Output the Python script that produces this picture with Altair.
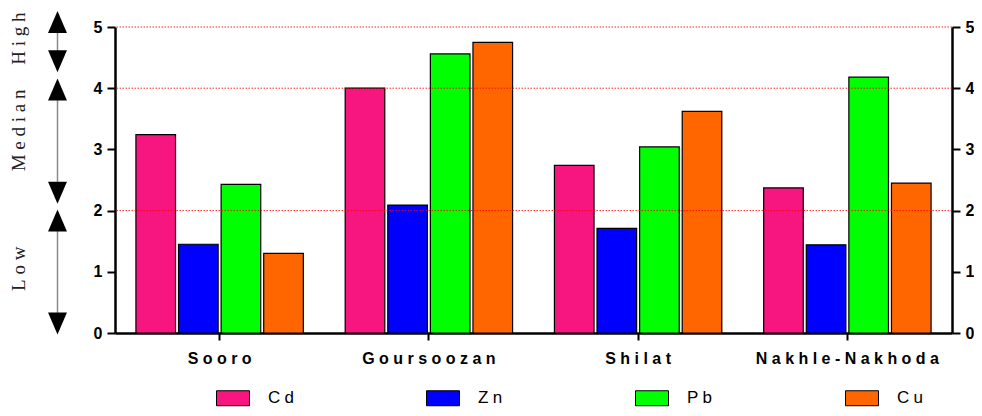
import altair as alt
import pandas as pd

# ---- data ----
sites = ["Sooro", "Goursoozan", "Shilat", "Nakhle-Nakhoda"]
metals = ["Cd", "Zn", "Pb", "Cu"]
cd = [3.24, 4.00, 2.74, 2.37]
zn = [1.45, 2.09, 1.71, 1.44]
pb = [2.43, 4.56, 3.04, 4.18]
cu = [1.30, 4.75, 3.62, 2.45]
metal_colors = ["#F7157F", "#0000FF", "#00FF00", "#FF6600"]
y_ticks = [0, 1, 2, 3, 4, 5]
grid_levels = [2, 4, 5]
zones = ["High", "Median", "Low"]
zone_mid = [4.81, 3.31, 1.05]
zone_top = [5.08, 3.98, 1.84]
zone_bottom = [4.44, 2.29, 0.155]

rows = []
for i, s in enumerate(sites):
    for m, vals in zip(metals, [cd, zn, pb, cu]):
        rows.append({"site": s, "metal": m, "value": vals[i]})
bars_df = pd.DataFrame(rows)

zones_df = pd.DataFrame({
    "label": ["\u2005".join(z) for z in zones],
    "mid": zone_mid,
    "top": zone_top,
    "bottom": zone_bottom,
})
grid_df = pd.DataFrame({"level": grid_levels})

ysc = alt.Scale(domain=[0, 5], nice=False)
FONT = "Liberation Sans"

axis_common = dict(
    title=None, grid=False, domainColor="black", domainWidth=2.5,
    tickColor="black", tickWidth=2, labelFont=FONT, labelFontWeight="bold",
    labelFontSize=16, labelColor="black",
)

bars = alt.Chart(bars_df).mark_bar(stroke="black", strokeWidth=1.2).encode(
    x=alt.X("site:N", sort=sites,
            scale=alt.Scale(paddingInner=0.2, paddingOuter=0.1),
            axis=alt.Axis(labelAngle=0, tickSize=7, labelPadding=10,
                          labelLimit=400,
                          labelExpr="join(split(datum.label, ''), ' ')",
                          **axis_common)),
    xOffset=alt.XOffset("metal:N", sort=metals,
                        scale=alt.Scale(paddingInner=0.07, paddingOuter=0)),
    y=alt.Y("value:Q", scale=ysc,
            axis=alt.Axis(orient="left", values=y_ticks, format="d",
                          tickSize=8, labelPadding=5, **axis_common)),
    color=alt.Color("metal:N", sort=metals,
                    scale=alt.Scale(domain=metals, range=metal_colors),
                    legend=alt.Legend(
                        title=None, orient="none", legendX=101, legendY=354,
                        direction="horizontal",
                        symbolType="M-1,-0.4545H1V0.4545H-1Z", symbolSize=1089,
                        symbolStrokeColor="black", symbolStrokeWidth=1,
                        symbolOpacity=1, labelFont=FONT, labelFontSize=17,
                        labelColor="black", labelOffset=18, columnPadding=130,
                        labelExpr="join(split(datum.label, ''), '\u2005')")),
)

grid = alt.Chart(grid_df).mark_rule(
    color="#FF0000", strokeDash=[1.5, 1.5], strokeWidth=1, opacity=0.85
).encode(
    y=alt.Y("level:Q", scale=ysc,
            axis=alt.Axis(orient="right", values=y_ticks, format="d",
                          tickSize=8, labelPadding=5, **axis_common)),
)

line = alt.Chart(zones_df).mark_rule(color="#8a8a8a", strokeWidth=1.5).encode(
    x=alt.value(-57.5),
    y=alt.Y("top:Q", scale=ysc, axis=None),
    y2="bottom:Q",
)

UP = "M0,-1L0.86,1L-0.86,1Z"
DOWN = "M0,1L0.86,-1L-0.86,-1Z"
up = alt.Chart(zones_df).mark_point(
    shape=UP, filled=True, size=484, color="black", opacity=1, strokeWidth=0
).encode(x=alt.value(-57.5), y=alt.Y("top:Q", scale=ysc, axis=None))
down = alt.Chart(zones_df).mark_point(
    shape=DOWN, filled=True, size=484, color="black", opacity=1, strokeWidth=0
).encode(x=alt.value(-57.5), y=alt.Y("bottom:Q", scale=ysc, axis=None))

text = alt.Chart(zones_df).mark_text(
    angle=270, font="Liberation Serif", fontSize=19, color="#222222",
    align="center", baseline="middle"
).encode(
    x=alt.value(-96),
    y=alt.Y("mid:Q", scale=ysc, axis=None),
    text="label:N",
)

chart = alt.layer(bars, grid, line, up, down, text).resolve_scale(
    y="independent"
).properties(
    width=837, height=306,
    autosize=alt.AutoSizeParams(type="none"),
    padding={"left": 107, "top": 19, "right": 22, "bottom": 75},
).configure_view(stroke=None)

chart.save("out.html", embed_options={"renderer": "svg", "actions": False})
